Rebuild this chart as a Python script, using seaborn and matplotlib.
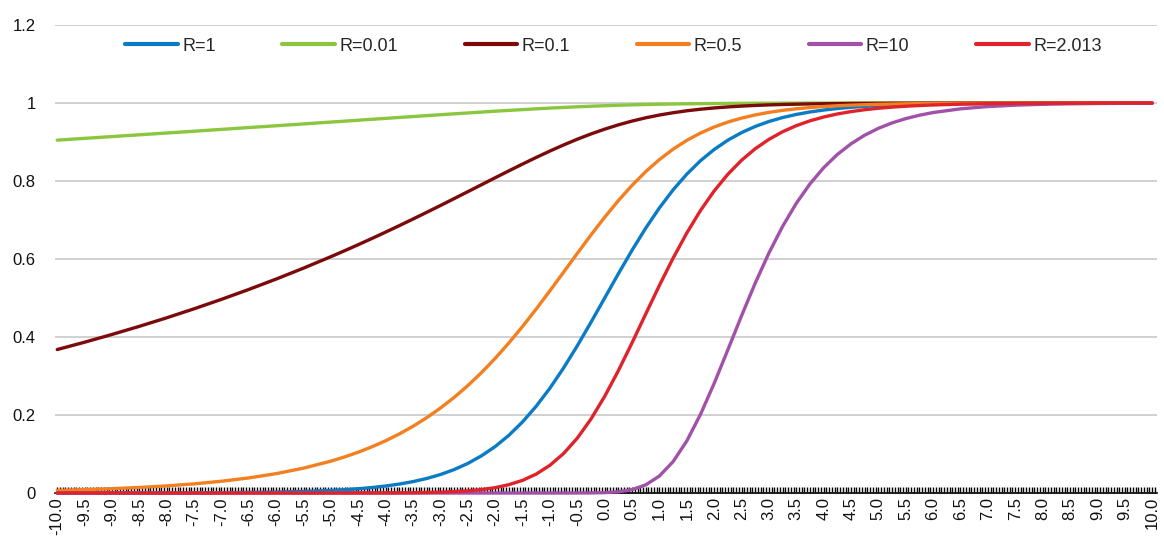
import numpy as np
import pandas as pd
import matplotlib
matplotlib.use("Agg")
import matplotlib.pyplot as plt
from matplotlib.ticker import MultipleLocator, FuncFormatter
import seaborn as sns

# x grid: coarse in the flat tails, finer through the transition region
x_values = [-10.0, -9.5, -9.0, -8.5, -8.0, -7.5, -7.0, -6.5, -6.0, -5.5, -5.0,
            -4.75, -4.5, -4.25, -4.0, -3.75, -3.5, -3.25, -3.0, -2.75, -2.5, -2.25,
            -2.0, -1.75, -1.5, -1.25, -1.0, -0.75, -0.5, -0.25, 0.0, 0.25, 0.5,
            0.75, 1.0, 1.25, 1.5, 1.75, 2.0, 2.25, 2.5, 2.75, 3.0, 3.25, 3.5,
            3.75, 4.0, 4.25, 4.5, 4.75, 5.0, 5.25, 5.5, 5.75, 6.0,
            6.5, 7.0, 7.5, 8.0, 8.5, 9.0, 9.5, 10.0]

r_1 = [0.0000, 0.0001, 0.0001, 0.0002, 0.0003, 0.0006, 0.0009, 0.0015, 0.0025, 0.0041, 0.0067,
       0.0086, 0.0110, 0.0141, 0.0180, 0.0230, 0.0293, 0.0373, 0.0474, 0.0601, 0.0759, 0.0954,
       0.1192, 0.1480, 0.1824, 0.2227, 0.2689, 0.3208, 0.3775, 0.4378, 0.5000, 0.5622, 0.6225,
       0.6792, 0.7311, 0.7773, 0.8176, 0.8520, 0.8808, 0.9047, 0.9241, 0.9399, 0.9526, 0.9627, 0.9707,
       0.9770, 0.9820, 0.9859, 0.9890, 0.9914, 0.9933, 0.9948, 0.9959, 0.9968, 0.9975,
       0.9985, 0.9991, 0.9994, 0.9997, 0.9998, 0.9999, 0.9999, 1.0000]

r_001 = [0.9048, 0.9094, 0.9139, 0.9185, 0.9231, 0.9277, 0.9324, 0.9371, 0.9417, 0.9464, 0.9512,
         0.9535, 0.9559, 0.9583, 0.9606, 0.9630, 0.9653, 0.9677, 0.9700, 0.9723, 0.9745, 0.9768,
         0.9790, 0.9811, 0.9831, 0.9851, 0.9870, 0.9887, 0.9903, 0.9918, 0.9931, 0.9943, 0.9953,
         0.9961, 0.9969, 0.9975, 0.9980, 0.9984, 0.9987, 0.9990, 0.9992, 0.9994, 0.9995, 0.9996, 0.9997,
         0.9998, 0.9998, 0.9999, 0.9999, 0.9999, 0.9999, 1.0000, 1.0000, 1.0000, 1.0000,
         1.0000, 1.0000, 1.0000, 1.0000, 1.0000, 1.0000, 1.0000, 1.0000]

r_01 = [0.3679, 0.3867, 0.4066, 0.4274, 0.4493, 0.4724, 0.4966, 0.5220, 0.5487, 0.5767, 0.6061,
        0.6213, 0.6369, 0.6528, 0.6691, 0.6857, 0.7026, 0.7198, 0.7372, 0.7549, 0.7727, 0.7905,
        0.8084, 0.8261, 0.8435, 0.8605, 0.8769, 0.8925, 0.9072, 0.9207, 0.9330, 0.9440, 0.9537,
        0.9621, 0.9692, 0.9751, 0.9801, 0.9841, 0.9874, 0.9900, 0.9921, 0.9938, 0.9952, 0.9962, 0.9970,
        0.9977, 0.9982, 0.9986, 0.9989, 0.9991, 0.9993, 0.9995, 0.9996, 0.9997, 0.9998,
        0.9998, 0.9999, 0.9999, 1.0000, 1.0000, 1.0000, 1.0000, 1.0000]

r_05 = [0.0067, 0.0087, 0.0111, 0.0143, 0.0183, 0.0235, 0.0302, 0.0387, 0.0497, 0.0638, 0.0818,
        0.0926, 0.1048, 0.1186, 0.1341, 0.1516, 0.1712, 0.1932, 0.2178, 0.2451, 0.2754, 0.3088,
        0.3453, 0.3848, 0.4271, 0.4719, 0.5186, 0.5664, 0.6144, 0.6617, 0.7071, 0.7498, 0.7889,
        0.8241, 0.8550, 0.8817, 0.9042, 0.9230, 0.9385, 0.9511, 0.9613, 0.9695, 0.9760, 0.9812, 0.9852,
        0.9884, 0.9910, 0.9930, 0.9945, 0.9957, 0.9967, 0.9974, 0.9980, 0.9984, 0.9988,
        0.9993, 0.9995, 0.9997, 0.9998, 0.9999, 0.9999, 1.0000, 1.0000]

r_10 = [0.0000, 0.0000, 0.0000, 0.0000, 0.0000, 0.0000, 0.0000, 0.0000, 0.0000, 0.0000, 0.0000,
        0.0000, 0.0000, 0.0000, 0.0000, 0.0000, 0.0000, 0.0000, 0.0000, 0.0000, 0.0000, 0.0000,
        0.0000, 0.0000, 0.0000, 0.0000, 0.0000, 0.0000, 0.0001, 0.0003, 0.0010, 0.0032, 0.0087,
        0.0209, 0.0436, 0.0805, 0.1334, 0.2015, 0.2810, 0.3671, 0.4543, 0.5381, 0.6152, 0.6836, 0.7427,
        0.7926, 0.8340, 0.8680, 0.8954, 0.9175, 0.9351, 0.9490, 0.9600, 0.9687, 0.9756,
        0.9851, 0.9909, 0.9945, 0.9967, 0.9980, 0.9988, 0.9993, 0.9996]

r_2013 = [0.0000, 0.0000, 0.0000, 0.0000, 0.0000, 0.0000, 0.0000, 0.0000, 0.0000, 0.0000, 0.0000,
          0.0001, 0.0001, 0.0002, 0.0003, 0.0005, 0.0008, 0.0013, 0.0022, 0.0035, 0.0056, 0.0088,
          0.0138, 0.0214, 0.0325, 0.0486, 0.0711, 0.1014, 0.1407, 0.1897, 0.2478, 0.3137, 0.3851,
          0.4590, 0.5323, 0.6022, 0.6667, 0.7243, 0.7745, 0.8173, 0.8532, 0.8827, 0.9068, 0.9263, 0.9419,
          0.9543, 0.9641, 0.9719, 0.9780, 0.9828, 0.9866, 0.9895, 0.9918, 0.9936, 0.9950,
          0.9970, 0.9982, 0.9989, 0.9993, 0.9996, 0.9998, 0.9999, 0.9999]

series_names = ["R=1", "R=0.01", "R=0.1", "R=0.5", "R=10", "R=2.013"]
series_values = [r_1, r_001, r_01, r_05, r_10, r_2013]
series_colors = ["#0A7BC4", "#8CC63F", "#7D0A0A", "#F47F20", "#A151A8", "#E0222B"]

y_ticks = [0, 0.2, 0.4, 0.6, 0.8, 1.0, 1.2]

frames = [pd.DataFrame({"x": x_values, "y": vals, "series": name})
          for name, vals in zip(series_names, series_values)]
df = pd.concat(frames, ignore_index=True)

sns.set_style("white")
plt.rcParams["font.family"] = ["Liberation Sans", "DejaVu Sans"]

fig = plt.figure(figsize=(11.64, 5.38), dpi=100)
ax = fig.add_axes([0.0473, 0.0836, 0.9467, 0.8699])

sns.lineplot(data=df, x="x", y="y", hue="series", hue_order=series_names,
             palette=series_colors, linewidth=2.4, ax=ax, legend=True,
             zorder=3, clip_on=False)
for line in ax.get_lines():
    line.set_solid_capstyle("round")
    line.set_solid_joinstyle("round")

ax.set_xlim(-10.04, 10.09)
ax.set_ylim(0, 1.2)

# horizontal gridlines
ax.set_yticks(y_ticks)
ax.yaxis.set_major_formatter(FuncFormatter(lambda v, p: f"{v:g}"))
ax.grid(axis="y", color="#D0D0D0", linewidth=1.4)
ax.grid(axis="x", visible=False)
ax.set_axisbelow(True)

# category-style x axis: labels every 0.5, small ticks every 0.05
ax.xaxis.set_major_locator(MultipleLocator(0.5))
ax.xaxis.set_minor_locator(MultipleLocator(0.05))
ax.xaxis.set_major_formatter(FuncFormatter(lambda v, p: f"{v:.1f}"))
ax.tick_params(axis="x", which="both", direction="in", length=4, width=1,
               color="black", bottom=True, top=False)
ax.tick_params(axis="x", which="major", labelsize=12, rotation=90, pad=3,
               labelcolor="#111111")
ax.tick_params(axis="y", which="both", length=0, labelsize=12, pad=14,
               labelcolor="#111111")

for side in ["left", "right", "top"]:
    ax.spines[side].set_visible(False)
ax.spines["bottom"].set_color("black")
ax.spines["bottom"].set_linewidth(1.2)
ax.spines["bottom"].set_zorder(2)

ax.set_xlabel("")
ax.set_ylabel("")

handles, labels = ax.get_legend_handles_labels()
for h in handles:
    h.set_linewidth(3.0)
    h.set_solid_capstyle("round")
ax.legend(handles, labels, loc="center", bbox_to_anchor=(0.527, 0.914),
          bbox_transform=fig.transFigure, ncol=6, frameon=False,
          fontsize=13, handlelength=2.9, handletextpad=0.25,
          columnspacing=3.7)

fig.savefig("out.png", dpi=100)
